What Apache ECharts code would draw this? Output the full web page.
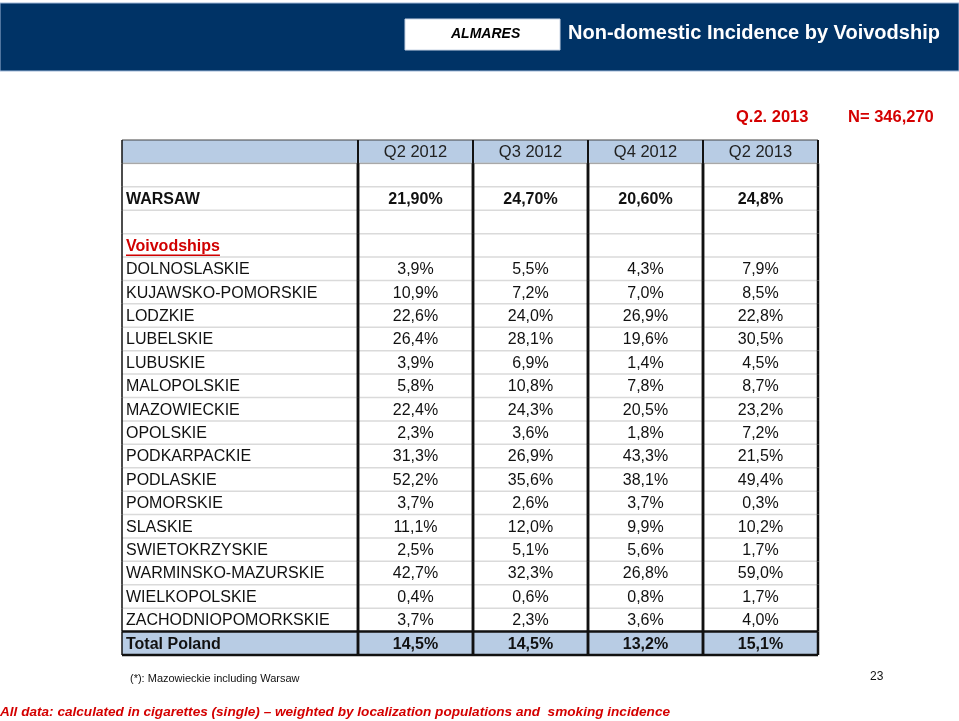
<!DOCTYPE html>
<html>
<head>
<meta charset="utf-8">
<script src="https://cdn.jsdelivr.net/npm/echarts@6/dist/echarts.min.js"></script>
<style>
  html, body { margin: 0; padding: 0; background: #fff; }
  #chart { width: 959px; height: 721px; }
</style>
</head>
<body>
<div id="chart"></div>
<script>
// table data
const columns = ['Q2 2012', 'Q3 2012', 'Q4 2012', 'Q2 2013'];
const provinces = [
  'DOLNOSLASKIE', 'KUJAWSKO-POMORSKIE', 'LODZKIE', 'LUBELSKIE', 'LUBUSKIE',
  'MALOPOLSKIE', 'MAZOWIECKIE', 'OPOLSKIE', 'PODKARPACKIE', 'PODLASKIE',
  'POMORSKIE', 'SLASKIE', 'SWIETOKRZYSKIE', 'WARMINSKO-MAZURSKIE',
  'WIELKOPOLSKIE', 'ZACHODNIOPOMORKSKIE'
];
const q2_2012 = [3.9, 10.9, 22.6, 26.4, 3.9, 5.8, 22.4, 2.3, 31.3, 52.2, 3.7, 11.1, 2.5, 42.7, 0.4, 3.7];
const q3_2012 = [5.5, 7.2, 24.0, 28.1, 6.9, 10.8, 24.3, 3.6, 26.9, 35.6, 2.6, 12.0, 5.1, 32.3, 0.6, 2.3];
const q4_2012 = [4.3, 7.0, 26.9, 19.6, 1.4, 7.8, 20.5, 1.8, 43.3, 38.1, 3.7, 9.9, 5.6, 26.8, 0.8, 3.6];
const q2_2013 = [7.9, 8.5, 22.8, 30.5, 4.5, 8.7, 23.2, 7.2, 21.5, 49.4, 0.3, 10.2, 1.7, 59.0, 1.7, 4.0];
const warsaw = ['21,90%', '24,70%', '20,60%', '24,8%'];
const totalPoland = [14.5, 14.5, 13.2, 15.1];

const fmt = v => v.toFixed(1).replace('.', ',') + '%';
const series4 = [q2_2012, q3_2012, q4_2012, q2_2013];

// rows: header, blank, warsaw, blank, section, provinces..., total
const rowKinds = ['header', 'blank', 'warsaw', 'blank', 'section']
  .concat(provinces.map(() => 'province')).concat(['total']);
const rowLabels = ['', '', 'WARSAW', '', 'Voivodships'].concat(provinces).concat(['Total Poland']);
const rowIds = rowLabels.map((l, i) => String(i));

const labelCells = rowLabels.map((t, i) => ({ value: [0, i], text: t, kind: rowKinds[i] }));
const valueCells = [];
rowKinds.forEach((kind, i) => {
  for (let c = 0; c < 4; c++) {
    let t = '';
    if (kind === 'header') t = columns[c];
    else if (kind === 'warsaw') t = warsaw[c];
    else if (kind === 'province') t = fmt(series4[c][i - 5]);
    else if (kind === 'total') t = fmt(totalPoland[c]);
    valueCells.push({ value: [c, i], text: t, kind: kind });
  }
});

const FONT = '"Liberation Sans", Arial, sans-serif';
const measure = document.createElement('canvas').getContext('2d');

function makeRender(cells, isLabel) {
  return function (params, api) {
    const cell = cells[params.dataIndex];
    const p = api.coord([api.value(0), api.value(1)]);
    const s = api.size([1, 1]);
    const x0 = p[0] - s[0] / 2, y0 = p[1] - s[1] / 2, w = s[0], h = s[1];
    const kind = cell.kind;
    const ch = [];
    const fill = (kind === 'header' || kind === 'total') ? '#b8cce4' : '#ffffff';
    ch.push({ type: 'rect', shape: { x: x0, y: y0, width: w, height: h }, style: { fill: fill }, z2: 0 });
    ch.push({ type: 'line', shape: { x1: x0, y1: y0 + h, x2: x0 + w, y2: y0 + h },
      style: { stroke: '#dadada', lineWidth: 1.5 }, z2: 1 });
    if (kind === 'header') {
      ch.push({ type: 'line', shape: { x1: x0, y1: y0, x2: x0 + w, y2: y0 },
        style: { stroke: '#444', lineWidth: 1.2 }, z2: 6 });
      ch.push({ type: 'line', shape: { x1: x0, y1: y0 + h, x2: x0 + w, y2: y0 + h },
        style: { stroke: '#a8a8a8', lineWidth: 1.2 }, z2: 6 });
    }
    if (kind === 'total') {
      ch.push({ type: 'line', shape: { x1: x0, y1: y0, x2: x0 + w, y2: y0 },
        style: { stroke: '#111', lineWidth: 2.5 }, z2: 7 });
      ch.push({ type: 'line', shape: { x1: x0, y1: y0 + h, x2: x0 + w, y2: y0 + h },
        style: { stroke: '#111', lineWidth: 2.5 }, z2: 7 });
    }
    const vW = kind === 'header' ? 2 : 2.5;
    ch.push({ type: 'line', shape: { x1: x0, y1: y0, x2: x0, y2: y0 + h },
      style: { stroke: '#111', lineWidth: isLabel ? 1.5 : vW }, z2: 8 });
    ch.push({ type: 'line', shape: { x1: x0 + w, y1: y0, x2: x0 + w, y2: y0 + h },
      style: { stroke: '#111', lineWidth: vW }, z2: 8 });

    if (cell.text) {
      let weight = 'normal', color = '#111';
      if (kind === 'warsaw' || kind === 'total' || kind === 'section') weight = 'bold';
      if (kind === 'section') color = '#d00000';
      if (kind === 'header') color = '#222';
      const size = kind === 'header' ? 16.5 : 16;
      const font = weight + ' ' + size + 'px ' + FONT;
      const tx = isLabel ? x0 + 4 : p[0];
      ch.push({ type: 'text', z2: 10, style: {
        text: cell.text, x: tx, y: p[1] + 1, fill: color, font: font,
        align: isLabel ? 'left' : 'center', textAlign: isLabel ? 'left' : 'center',
        verticalAlign: 'middle', textVerticalAlign: 'middle'
      } });
      if (kind === 'section') {
        measure.font = font;
        const tw = measure.measureText(cell.text).width;
        ch.push({ type: 'line', z2: 10, shape: { x1: tx, y1: p[1] + 10, x2: tx + tw, y2: p[1] + 10 },
          style: { stroke: color, lineWidth: 1.5 } });
      }
    }
    return { type: 'group', children: ch };
  };
}

const chart = echarts.init(document.getElementById('chart'));
const gridTop = 140, gridH = 515;
chart.setOption({
  animation: false,
  grid: [
    { left: 122, top: gridTop, width: 236, height: gridH },
    { left: 358, top: gridTop, width: 460, height: gridH }
  ],
  xAxis: [
    { type: 'category', gridIndex: 0, data: ['label'], show: false },
    { type: 'category', gridIndex: 1, data: columns, show: false }
  ],
  yAxis: [
    { type: 'category', gridIndex: 0, data: rowIds, inverse: true, show: false },
    { type: 'category', gridIndex: 1, data: rowIds, inverse: true, show: false }
  ],
  series: [
    { type: 'custom', xAxisIndex: 0, yAxisIndex: 0, data: labelCells, renderItem: makeRender(labelCells, true), silent: true },
    { type: 'custom', xAxisIndex: 1, yAxisIndex: 1, data: valueCells, renderItem: makeRender(valueCells, false), silent: true }
  ],
  graphic: [
    { type: 'rect', shape: { x: 0, y: 3, width: 959, height: 68 },
      style: { fill: '#003366', stroke: '#9fb8d8', lineWidth: 1 } },
    { type: 'rect', shape: { x: 405, y: 19, width: 155, height: 31 },
      style: { fill: '#ffffff', stroke: '#c8d4e4', lineWidth: 1 } },
    { type: 'text', left: 451, top: 27,
      style: { text: 'ALMARES', fill: '#000', font: 'italic bold 14px ' + FONT } },
    { type: 'text', left: 568, top: 23,
      style: { text: 'Non-domestic Incidence by Voivodship', fill: '#fff', font: 'bold 20px ' + FONT } },
    { type: 'text', left: 736, top: 109,
      style: { text: 'Q.2. 2013', fill: '#d40000', font: 'bold 16.5px ' + FONT } },
    { type: 'text', left: 848, top: 109,
      style: { text: 'N= 346,270', fill: '#d40000', font: 'bold 16.5px ' + FONT } },
    { type: 'text', left: 130, top: 673,
      style: { text: '(*): Mazowieckie including Warsaw', fill: '#111', font: '11px ' + FONT } },
    { type: 'text', left: 870, top: 671,
      style: { text: '23', fill: '#111', font: '12px ' + FONT } },
    { type: 'text', left: 0, top: 705,
      style: { text: 'All data: calculated in cigarettes (single) \u2013 weighted by localization populations and  smoking incidence',
        fill: '#d40000', font: 'italic bold 13.6px ' + FONT } }
  ]
});
</script>
</body>
</html>
